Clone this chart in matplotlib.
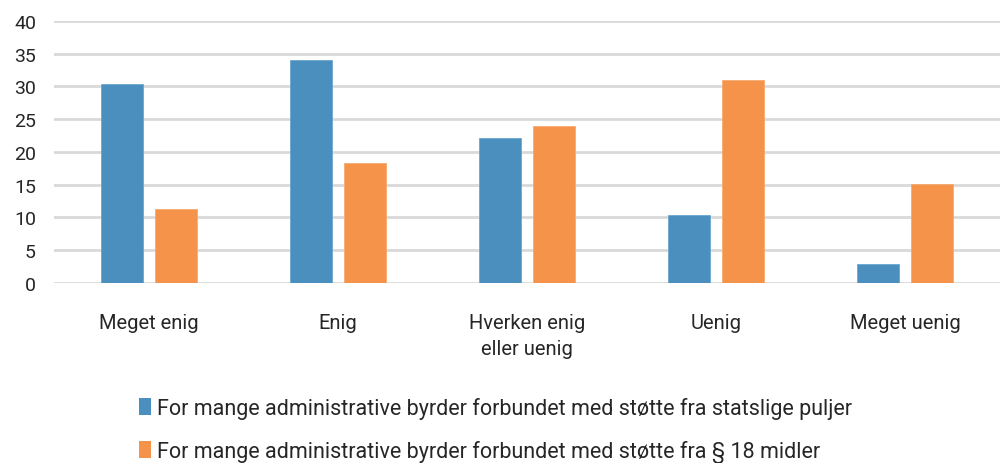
import matplotlib.pyplot as plt
import numpy as np
from matplotlib.patches import Patch

plt.rcParams['font.family'] = ['Roboto', 'DejaVu Sans']

categories = ["Meget enig", "Enig", "Hverken enig\neller uenig", "Uenig", "Meget uenig"]
statslige = [30.4, 34.0, 22.1, 10.4, 2.9]
paragraf18 = [11.3, 18.3, 24.0, 31.0, 15.1]
series_labels = [
    "For mange administrative byrder forbundet med støtte fra statslige puljer",
    "For mange administrative byrder forbundet med støtte fra § 18 midler",
]
yticks = [0, 5, 10, 15, 20, 25, 30, 35, 40]

blue = "#4a8fbd"
orange = "#f5934a"
text_col = "#262626"

fig = plt.figure(figsize=(10, 4.64), dpi=100)
ax = fig.add_axes([0.054, 0.388, 0.946, 0.5646])

x = np.arange(len(categories))
w = 0.222
off = (w + 0.063) / 2
ax.bar(x - off, statslige, w, color=blue, edgecolor="#6aa6cf", linewidth=0.6, zorder=3)
ax.bar(x + off, paragraf18, w, color=orange, edgecolor="#f7ab72", linewidth=0.6, zorder=3)

ax.set_xlim(-0.5, len(categories) - 0.5)
ax.set_ylim(0, 40)
ax.set_yticks(yticks)
ax.set_yticklabels([str(t) for t in yticks], fontsize=14, color=text_col)
ax.yaxis.grid(True, color="#d9d9d9", linewidth=2, zorder=0)
ax.set_xticks(x)
ax.set_xticklabels(categories, fontsize=14.5, color=text_col, linespacing=1.45)
ax.tick_params(axis="both", length=0)
ax.tick_params(axis="x", pad=21.5)
ax.tick_params(axis="y", pad=13)
for s in ax.spines.values():
    s.set_visible(False)
ax.set_axisbelow(True)

handles = [Patch(facecolor=blue), Patch(facecolor=orange)]
fig.legend(handles, series_labels, loc="upper left", bbox_to_anchor=(0.128, 0.165),
           frameon=False, fontsize=15.5, labelcolor=text_col, handlelength=0.58,
           handleheight=0.82, handletextpad=0.25, labelspacing=0.95, borderpad=0)

fig.savefig("out.png", dpi=100)
